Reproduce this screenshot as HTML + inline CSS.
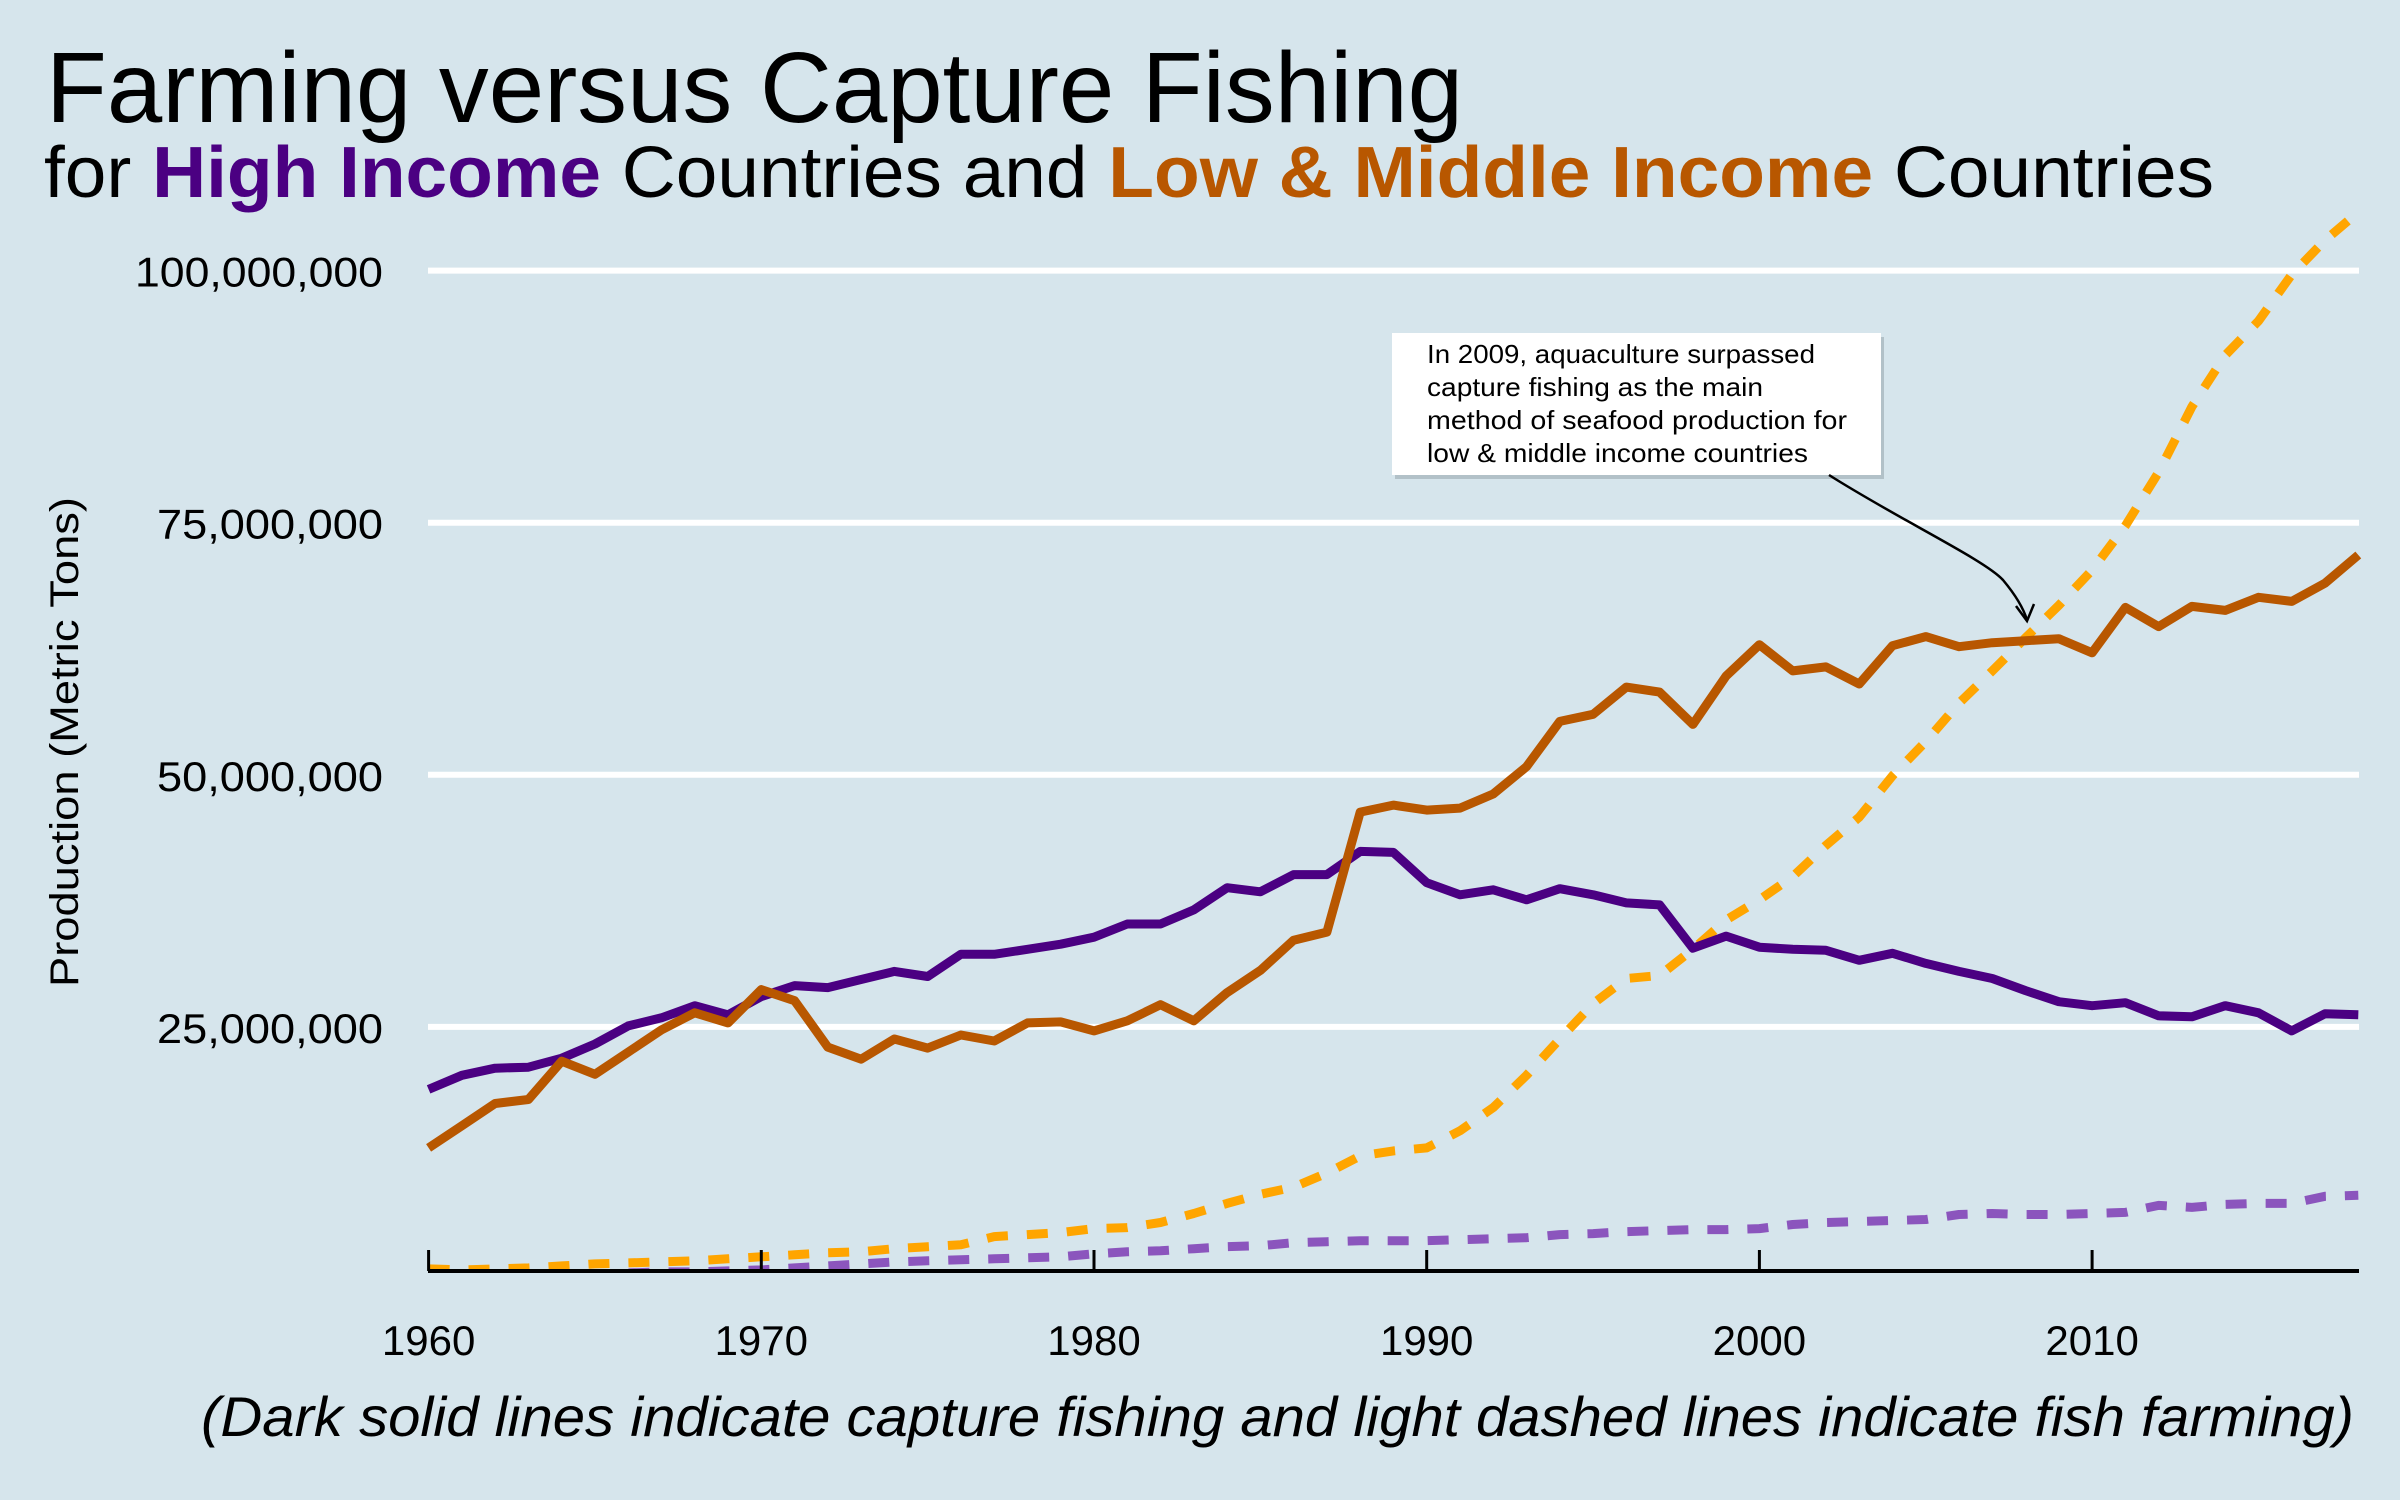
<!DOCTYPE html>
<html><head><meta charset="utf-8"><style>
html,body{margin:0;padding:0;background:#D6E5EC;}
svg{display:block;font-family:"Liberation Sans",sans-serif;}
</style></head><body>
<svg id="chart" width="2400" height="1500" viewBox="0 0 2400 1500" xmlns="http://www.w3.org/2000/svg">
<rect x="0" y="0" width="2400" height="1500" fill="#D6E5EC"/>
<text x="46" y="122" font-size="100" textLength="1417" lengthAdjust="spacingAndGlyphs" fill="#000">Farming versus Capture Fishing</text>
<text x="44" y="197" font-size="72" textLength="2170" lengthAdjust="spacingAndGlyphs" fill="#000">for <tspan font-weight="bold" fill="#4B0082">High Income</tspan> Countries and <tspan font-weight="bold" fill="#B85700">Low &amp; Middle Income</tspan> Countries</text>
<g id="grid"></g>
<g id="yticks"></g>
<text transform="translate(78,742) rotate(-90)" text-anchor="middle" font-size="40" textLength="490" lengthAdjust="spacingAndGlyphs" fill="#000">Production (Metric Tons)</text>
<defs><clipPath id="plotclip"><rect x="420" y="150" width="1942" height="1122"/></clipPath></defs>
<g id="series" clip-path="url(#plotclip)"></g>
<g id="xaxis"></g>
<g>
<rect x="1395" y="337" width="489" height="142" fill="#9aa8b0" opacity="0.6"/>
<rect x="1392" y="333" width="489" height="142" fill="#ffffff"/>
<text font-size="26" fill="#000">
<tspan x="1427" y="363" textLength="388" lengthAdjust="spacingAndGlyphs">In 2009, aquaculture surpassed</tspan>
<tspan x="1427" y="396" textLength="336" lengthAdjust="spacingAndGlyphs">capture fishing as the main</tspan>
<tspan x="1427" y="429" textLength="420" lengthAdjust="spacingAndGlyphs">method of seafood production for</tspan>
<tspan x="1427" y="462" textLength="381" lengthAdjust="spacingAndGlyphs">low &amp; middle income countries</tspan>
</text>
<path d="M1829,475 C1900,520 1985,560 2003,580 C2018,598 2024,610 2027,620" fill="none" stroke="#000" stroke-width="2.5"/>
<path d="M2016,606 L2027,621 L2034,604" fill="none" stroke="#000" stroke-width="2.5"/>
</g>
<text x="201" y="1436" font-size="56" font-style="italic" textLength="2153" lengthAdjust="spacingAndGlyphs" fill="#000">(Dark solid lines indicate capture fishing and light dashed lines indicate fish farming)</text>
</svg>
<script>
const years = [];
for (let y = 1960; y <= 2018; y++) years.push(y);
const hiCapture = [18.8,20.2,20.9,21.0,21.9,23.3,25.1,25.9,27.1,26.2,28.0,29.1,28.9,29.7,30.5,30.0,32.2,32.2,32.7,33.2,33.9,35.2,35.2,36.6,38.8,38.4,40.1,40.1,42.4,42.3,39.3,38.1,38.6,37.6,38.7,38.1,37.3,37.1,32.8,34.0,32.9,32.7,32.6,31.6,32.3,31.3,30.5,29.8,28.6,27.5,27.1,27.4,26.1,26.0,27.1,26.4,24.6,26.3,26.2];
const lmiCapture = [13.0,15.2,17.4,17.8,21.6,20.3,22.5,24.7,26.4,25.4,28.7,27.6,23.0,21.8,23.8,22.9,24.2,23.6,25.4,25.5,24.6,25.6,27.2,25.6,28.4,30.6,33.6,34.4,46.3,47.0,46.5,46.7,48.1,50.8,55.3,56.0,58.7,58.2,55.0,59.8,62.9,60.3,60.7,59.0,62.8,63.7,62.7,63.1,63.3,63.5,62.1,66.6,64.7,66.7,66.3,67.6,67.2,69.0,71.8];
const lmiFarming = [1.0,0.9,1.0,1.1,1.3,1.5,1.6,1.7,1.8,2.0,2.2,2.4,2.6,2.7,3.0,3.2,3.4,4.2,4.4,4.6,5.0,5.1,5.6,6.5,7.5,8.4,9.1,10.5,12.2,12.7,13.0,14.7,17.0,20.2,23.8,27.3,29.8,30.1,32.7,35.6,37.6,39.9,43.0,45.8,49.9,53.3,57.1,60.3,63.6,66.8,70.3,74.7,80.0,86.5,91.6,95.0,99.6,103.0,105.8];
const hiFarming = [0.3,0.3,0.4,0.4,0.5,0.5,0.6,0.7,0.7,0.8,0.9,1.1,1.3,1.5,1.7,1.8,1.9,2.0,2.1,2.2,2.5,2.7,2.8,3.0,3.2,3.3,3.6,3.7,3.8,3.8,3.8,3.9,4.0,4.1,4.4,4.5,4.7,4.8,4.9,4.9,5.0,5.4,5.6,5.7,5.8,5.9,6.4,6.5,6.4,6.4,6.5,6.6,7.3,7.1,7.4,7.5,7.5,8.2,8.3];
const yTicks = [25, 50, 75, 100];
const yTickLabels = ["25,000,000","50,000,000","75,000,000","100,000,000"];
const xTicks = [1960,1970,1980,1990,2000,2010];

const NS = "http://www.w3.org/2000/svg";
function xs(yr){ return 428.6 + (yr - 1960) * 33.27; }
function ys(v){ return 1279 - v * 10.084; }
function mk(tag, attrs, parent){ const e = document.createElementNS(NS, tag); for (const k in attrs) e.setAttribute(k, attrs[k]); parent.appendChild(e); return e; }

const grid = document.getElementById('grid');
const yt = document.getElementById('yticks');
yTicks.forEach((t, i) => {
  const l = mk('line', {x1: 428, x2: 2359, y1: ys(t), y2: ys(t), stroke: '#ffffff', 'stroke-width': 6}, grid);
  
  
  const tx = mk('text', {x: 383, y: ys(t) + 16, 'text-anchor': 'end', 'font-size': 42, fill: '#000'}, yt);
  
  
  tx.setAttribute('textLength', yTickLabels[i].length > 10 ? 248 : 226);
  tx.setAttribute('lengthAdjust', 'spacingAndGlyphs');
  tx.textContent = yTickLabels[i];
});

const series = document.getElementById('series');
function drawLine(vals, color, dashed, name){
  const d = vals.map((v, i) => (i ? 'L' : 'M') + xs(years[i]).toFixed(1) + ',' + ys(v).toFixed(1)).join(' ');
  const attrs = {d: d, fill: 'none', stroke: color, 'stroke-width': 9, 'stroke-linejoin': 'round'};
  if (dashed) attrs['stroke-dasharray'] = '21 19';
  const p = mk('path', attrs, series);
  
  
}
drawLine(hiFarming, '#8B55BD', true, 'high-income-farming-line');
drawLine(lmiFarming, '#FFA500', true, 'lmi-farming-line');
drawLine(hiCapture, '#4B0082', false, 'high-income-capture-line');
drawLine(lmiCapture, '#B85700', false, 'lmi-capture-line');

const xa = document.getElementById('xaxis');
const al = mk('line', {x1: 428, x2: 2359, y1: 1271, y2: 1271, stroke: '#000', 'stroke-width': 4}, xa);


xTicks.forEach(t => {
  const tk = mk('line', {x1: xs(t), x2: xs(t), y1: 1250, y2: 1271, stroke: '#000', 'stroke-width': 3}, xa);
  
  
  const tx = mk('text', {x: xs(t), y: 1355, 'text-anchor': 'middle', 'font-size': 42, fill: '#000'}, xa);
  
  
  tx.textContent = t;
});
</script>
</body></html>
